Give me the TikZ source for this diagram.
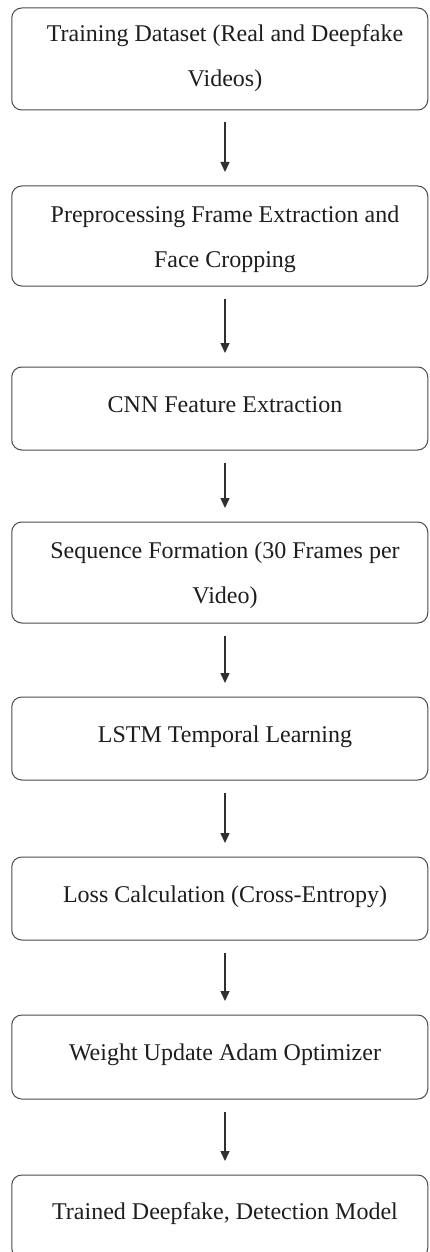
\documentclass[tikz,border=0pt]{standalone}
\usepackage{fontspec}
\setmainfont{Liberation Serif}
\usetikzlibrary{arrows.meta}
\definecolor{boxc}{HTML}{4A4A4A}
\definecolor{txtc}{HTML}{1E1E1E}
\definecolor{arrc}{HTML}{303030}
\begin{document}
\begin{tikzpicture}[x=1pt,y=-1pt,
  box/.style={draw=boxc, line width=1pt, rounded corners=10pt, minimum width=416pt, inner sep=0pt},
  lbl/.style={anchor=base, align=center, text=txtc, font=\fontsize{24}{45}\selectfont, inner sep=0pt},
  arr/.style={draw=arrc, line width=1.4pt, -{Triangle[width=9pt,length=10pt]}, shorten <=12pt, shorten >=13.5pt}]
\useasboundingbox (0,0) rectangle (429,1252);
\clip (0,0) rectangle (429,1252);
\fill[white] (0,0) rectangle (429,1252);
\node[box, minimum height=102pt] (b1) at (219.75,59) {};
\node[box, minimum height=100pt] (b2) at (219.75,236) {};
\node[box, minimum height=83pt] (b3) at (219.75,408.5) {};
\node[box, minimum height=101pt] (b4) at (219.75,572.5) {};
\node[box, minimum height=83pt] (b5) at (219.75,738.5) {};
\node[box, minimum height=83pt] (b6) at (219.75,898.5) {};
\node[box, minimum height=84pt] (b7) at (219.75,1057) {};
\node[box, minimum height=83pt] (b8) at (219.75,1216.5) {};
\node[lbl] (t1) at (225,87) {Training Dataset (Real and Deepfake\\Videos)};
\node[lbl] (t2) at (225,267) {Preprocessing Frame Extraction and\\Face Cropping};
\node[lbl] (t3) at (225,412) {CNN Feature Extraction};
\node[lbl] (t4) at (225,603) {Sequence Formation (30 Frames per\\Video)};
\node[lbl] (t5) at (225,742) {LSTM Temporal Learning};
\node[lbl] (t6) at (225,902) {Loss Calculation (Cross-Entropy)};
\node[lbl] (t7) at (225,1060) {Weight Update Adam Optimizer};
\node[lbl] (t8) at (225,1219) {Trained Deepfake, Detection Model};
\foreach \a/\b in {b1/b2,b2/b3,b3/b4,b4/b5,b5/b6,b6/b7,b7/b8}
  \draw[arr] ([xshift=5.25pt]\a.south) -- ([xshift=5.25pt]\b.north);
\end{tikzpicture}
\end{document}
